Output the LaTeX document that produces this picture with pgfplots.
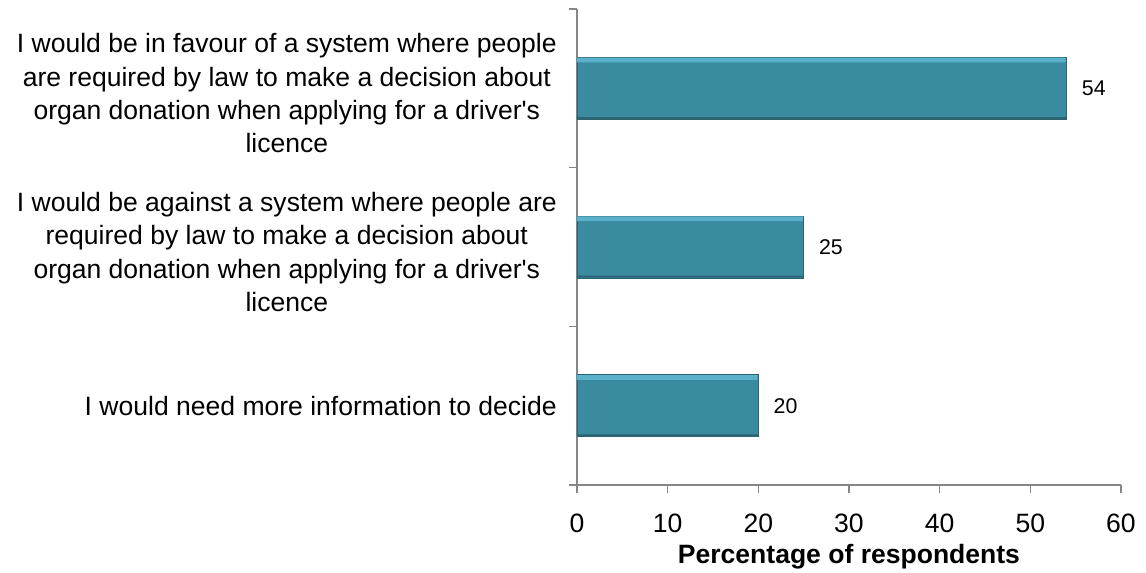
\documentclass[border=0pt]{standalone}
\usepackage{pgfplots}
\pgfplotsset{compat=1.18}
\usepackage{fontspec}
\setmainfont{Liberation Sans}
\definecolor{barmain}{RGB}{58,139,160}
\definecolor{barlight}{RGB}{90,176,200}
\definecolor{bardark}{RGB}{44,100,116}
\definecolor{axgray}{RGB}{134,134,134}
\newcommand{\q}{\textquotesingle}
\begin{document}
\begin{tikzpicture}
\useasboundingbox (-432.75pt,-65.25pt) rectangle (426.75pt,363.75pt);
\begin{axis}[
  at={(0,0)}, anchor=south west,
  scale only axis, width=408pt, height=357pt,
  xbar,
  xmin=0, xmax=60, xtick={0,10,...,60},
  ymin=-0.5, ymax=2.5,
  ytick={-0.5,0.5,1.5,2.5}, yticklabels={},
  extra y ticks={0,1,2},
  extra y tick labels={{I would need more information to decide},
    {\rule{0pt}{22pt}I would be against a system where people are\\required by law to make a decision about\\organ donation when applying for a driver\q s\\licence},
    {\rule{0pt}{22pt}I would be in favour of a system where people\\are required by law to make a decision about\\organ donation when applying for a driver\q s\\licence}},
  extra y tick style={major tick length=0pt},
  axis x line=bottom, axis y line=left,
  axis line style={axgray, line width=0.9pt, -},
  tick align=outside,
  major tick length=6pt,
  tick style={axgray, line width=0.9pt},
  /pgf/number format/assume math mode=true,
  yticklabel style={align=center, anchor=east, inner sep=0pt, xshift=-15pt, font=\fontsize{19.9}{25}\selectfont},
  xticklabel style={anchor=center, yshift=-23pt, font=\fontsize{19.9}{24}\selectfont},
  xlabel={Percentage of respondents},
  xlabel style={at={(axis description cs:0.5,0)}, anchor=base, yshift=-58.5pt, font=\fontsize{19.9}{24}\selectfont\bfseries},
]
\addplot[fill=barmain, draw=bardark, line width=0.6pt, bar width=0.39, bar shift=0,
  nodes near coords,
  nodes near coords style={anchor=west, inner sep=0pt, xshift=11.25pt, font=\fontsize{16}{19}\selectfont, black}]
  coordinates {(20,0) (25,1) (54,2)};
\addplot[fill=barlight, draw=none, bar width=0.03, bar shift=0.178]
  coordinates {(19.9,0) (24.9,1) (53.9,2)};
\addplot[fill=bardark, draw=none, bar width=0.012, bar shift=-0.187]
  coordinates {(20,0) (25,1) (54,2)};
\end{axis}
\end{tikzpicture}
\end{document}
